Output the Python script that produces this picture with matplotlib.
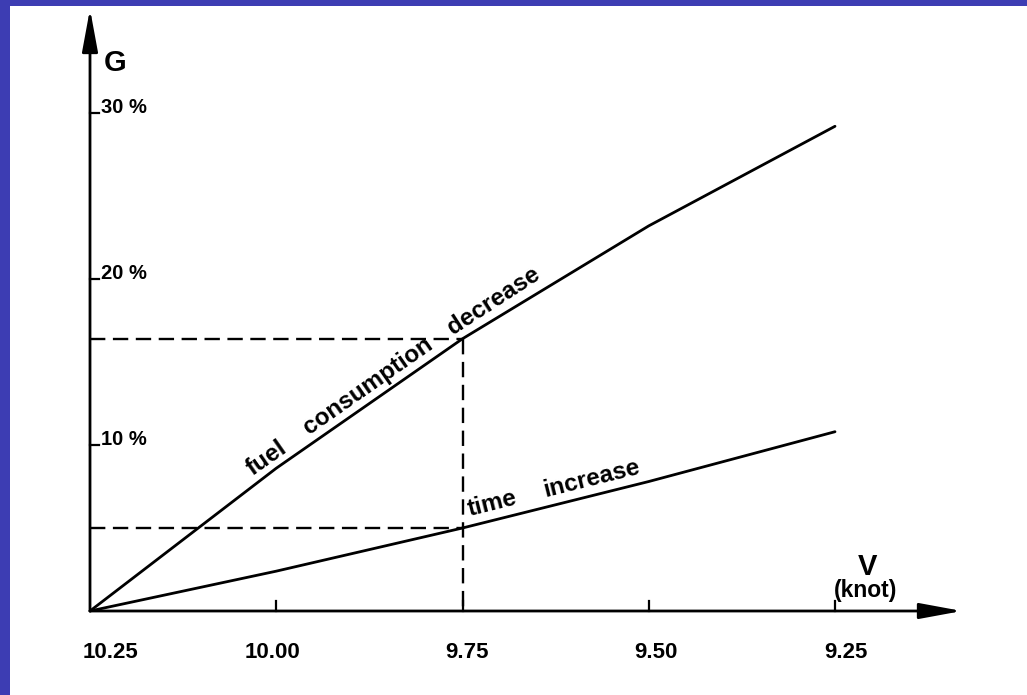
import matplotlib
matplotlib.use("Agg")
import matplotlib.pyplot as plt
from matplotlib.patches import Rectangle

# ---------------- data ----------------
speed_knots = [10.25, 10.00, 9.75, 9.50, 9.25]
fuel_decrease_pct = [0.0, 8.6, 16.4, 23.2, 29.2]
time_increase_pct = [0.0, 2.4, 5.0, 7.8, 10.8]
x_tick_labels = ["10.25", "10.00", "9.75", "9.50", "9.25"]
y_ticks = [10, 20, 30]
y_tick_labels = ["10 %", "20 %", "30 %"]
ref_speed = 9.75
ref_fuel = 16.4
ref_time = 5.0

# ---------------- layout ----------------
W, H = 1027, 695
FONT = ["Liberation Sans", "DejaVu Sans"]
fig = plt.figure(figsize=(W / 100, H / 100), dpi=100)
fig.patch.set_facecolor("#3d3db3")
fig.patches.append(Rectangle((10 / W, 0), 1, (H - 6) / H, transform=fig.transFigure,
                             facecolor="white", edgecolor="none", zorder=-5))

ax = fig.add_axes([0, 0, 1, 1])
ax.set_facecolor("none")
ax.set_zorder(2)
# pixel mapping: x0 at 90px, 745 px per knot; y0 at 611px, 16.6 px per %
X0, XS, Y0, YS = 90, 745, 611, 16.6
ax.set_xlim(10.25 + X0 / XS, 10.25 - (W - X0) / XS)
ax.set_ylim((Y0 - H) / YS, Y0 / YS)
ax.axis("off")


def fp(x, y):
    return (x / W, 1 - y / H)


# axes with arrows
arrow = dict(arrowstyle="-|>,head_length=1.3,head_width=0.24", mutation_scale=20,
             lw=2.0, color="black", shrinkA=0, shrinkB=0)
ax.annotate("", xy=(10.25 - (962 - X0) / XS, 0), xytext=(speed_knots[0], 0), arrowprops=arrow)
ax.annotate("", xy=(speed_knots[0], (Y0 - 9) / YS), xytext=(speed_knots[0], 0), arrowprops=arrow)

# x ticks and labels
label_dx_px = [21, -4, 4, 7, 11]
for v, lab, dx in zip(speed_knots, x_tick_labels, label_dx_px):
    if v != speed_knots[0]:
        ax.plot([v, v], [0, 10 / YS], color="black", lw=1.6)
    ax.annotate(lab, xy=(v, 0), xytext=(dx * 0.72, -42 * 0.72), textcoords="offset points",
                ha="center", va="center", fontsize=16, fontweight="bold", family=FONT)

# y ticks and labels
for t, lab in zip(y_ticks, y_tick_labels):
    ax.plot([speed_knots[0], speed_knots[0] - 9 / XS], [t, t], color="black", lw=1.6)
    ax.annotate(lab, xy=(speed_knots[0], t), xytext=(11 * 0.72, 0), textcoords="offset points",
                ha="left", va="baseline", fontsize=14.5, fontweight="bold", family=FONT)

# curves
ax.plot(speed_knots, fuel_decrease_pct, color="black", lw=2.0, solid_capstyle="round",
        solid_joinstyle="round")
ax.plot(speed_knots, time_increase_pct, color="black", lw=2.0, solid_capstyle="round",
        solid_joinstyle="round")

# dashed reference lines
dash = (0, (6.5, 3.2))
ax.plot([speed_knots[0], ref_speed], [ref_fuel, ref_fuel], color="black", lw=1.7, linestyle=dash)
ax.plot([speed_knots[0], ref_speed], [ref_time, ref_time], color="black", lw=1.7, linestyle=dash)
ax.plot([ref_speed, ref_speed], [ref_fuel, 0], color="black", lw=1.7, linestyle=dash)

# axis titles
fig.text(*fp(115, 63), "G", ha="center", va="center", fontsize=21, fontweight="bold", family=FONT)
fig.text(*fp(867, 567), "V", ha="center", va="center", fontsize=21, fontweight="bold", family=FONT)
fig.text(*fp(866, 590), "(knot)", ha="center", va="center", fontsize=16.5, fontweight="bold", family=FONT)

# curve labels
for word, (x, y), rot in [("fuel", (267, 458), 35), ("consumption", (368, 386), 35),
                          ("decrease", (494, 301), 33), ("time", (492, 504), 14),
                          ("increase", (592, 479), 14)]:
    fig.text(*fp(x, y), word, ha="center", va="center", rotation=rot, rotation_mode="anchor",
             fontsize=17.5, fontweight="bold", family=FONT)

fig.savefig("out.png", dpi=100, facecolor=fig.get_facecolor())
